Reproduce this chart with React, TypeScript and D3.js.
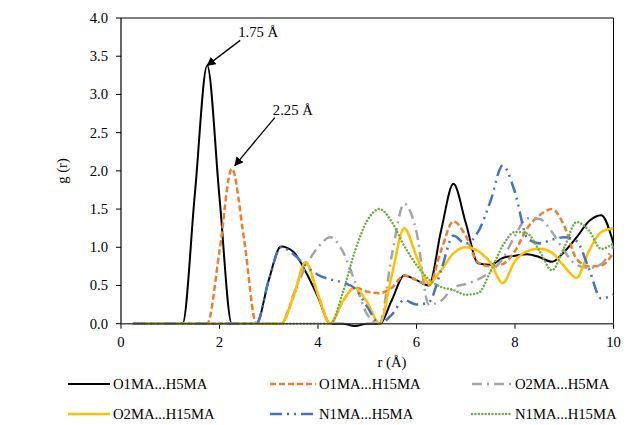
import React from "react";
import * as d3 from "d3";

// r (Å) sample points
const R = [0.25, 0.5, 0.75, 1.0, 1.25, 1.5, 1.75, 2.0, 2.25, 2.5, 2.75, 3.0, 3.25, 3.5, 3.75, 4.0, 4.25, 4.5, 4.75, 5.0,
  5.25, 5.5, 5.75, 6.0, 6.25, 6.5, 6.75, 7.0, 7.25, 7.5, 7.75, 8.0, 8.25, 8.5, 8.75, 9.0, 9.25, 9.5, 9.75, 10.0];

const O1MA_H5MA = [0, 0, 0, 0, 0, 1.7, 3.38, 1.65, 0, 0, 0, 0.57, 1.01, 0.94, 0.68, 0.35, 0, 0, -0.03, 0,
  0, 0.31, 0.63, 0.57, 0.5, 1.22, 1.83, 1.32, 0.79, 0.77, 0.86, 0.89, 0.91, 0.87, 0.81, 0.94, 1.13, 1.34, 1.42, 1.05];
const O1MA_H15MA = [0, 0, 0, 0, 0, 0, 0, 0.95, 2.03, 1.1, 0, 0, 0, 0.35, 0.8, 0.38, 0, 0.29, 0.47, 0.42,
  0.4, 0.47, 0.63, 0.57, 0.5, 0.96, 1.34, 1.15, 0.8, 0.75, 0.78, 0.95, 1.25, 1.42, 1.5, 1.28, 0.85, 0.75, 0.76, 0.93];
const O2MA_H5MA = [0, 0, 0, 0, 0, 0, 0, 0, 0, 0, 0, 0, 0, 0.38, 0.75, 1.0, 1.13, 0.95, 0.55, 0.12,
  0, 0.9, 1.57, 1.2, 0.25, 0.3, 0.47, 0.52, 0.58, 0.68, 0.85, 1.15, 1.38, 1.37, 1.2, 0.95, 0.77, 0.73, 0.78, 1.02];
const O2MA_H15MA = [0, 0, 0, 0, 0, 0, 0, 0, 0, 0, 0, 0, 0, 0.35, 0.8, 0.38, 0, 0.29, 0.47, 0.28,
  0, 0.64, 1.25, 0.88, 0.53, 0.7, 0.92, 1.0, 0.95, 0.8, 0.53, 0.82, 0.95, 0.98, 0.93, 0.75, 0.6, 0.95, 1.2, 1.25];
const N1MA_H5MA = [0, 0, 0, 0, 0, 0, 0, 0, 0, 0, 0, 0.57, 1.0, 0.91, 0.76, 0.64, 0.58, 0.54, 0.46, 0.22,
  0, 0.12, 0.31, 0.25, 0.28, 0.7, 1.15, 1.05, 1.2, 1.6, 2.07, 1.72, 1.12, 1.05, 1.1, 1.13, 1.08, 0.72, 0.33, 0.38];
const N1MA_H15MA = [0, 0, 0, 0, 0, 0, 0, 0, 0, 0, 0, 0, 0, 0, 0, 0, 0, 0.4, 0.95, 1.35,
  1.5, 1.33, 1.02, 0.77, 0.58, 0.48, 0.44, 0.38, 0.4, 0.68, 1.02, 1.2, 1.18, 0.95, 0.7, 1.0, 1.33, 1.22, 0.98, 1.05];

const SERIES_NAMES = ["O1MA...H5MA", "O1MA...H15MA", "O2MA...H5MA", "O2MA...H15MA", "N1MA...H5MA", "N1MA...H15MA"];
const SERIES_VALUES = [O1MA_H5MA, O1MA_H15MA, O2MA_H5MA, O2MA_H15MA, N1MA_H5MA, N1MA_H15MA];

const Y_TICKS = [0, 0.5, 1.0, 1.5, 2.0, 2.5, 3.0, 3.5, 4.0];
const X_TICKS = [0, 2, 4, 6, 8, 10];

const PEAK_R = [1.75, 2.25];
const PEAK_G = [3.38, 2.03];
const PEAK_LABELS = ["1.75 Å", "2.25 Å"];

// styles
const COLORS = ["#000000", "#ED7D31", "#A5A5A5", "#FFC000", "#4472C4", "#70AD47"];
const DASHES = ["none", "6,3", "10,5,2,5", "none", "12,5,2,5,2,5", "0.01,3.4"];
const WIDTHS = [2, 2.5, 2.5, 2.5, 2.5, 2.5];
const CAPS = ["butt", "butt", "butt", "butt", "butt", "round"];

const FONT = "'Liberation Serif', 'Times New Roman', serif";

export default function App() {
  const W = 633, H = 425;
  const x = d3.scaleLinear().domain([0, 10]).range([121, 613.5]);
  const y = d3.scaleLinear().domain([0, 4]).range([323.7, 18]);

  const line = d3
    .line<number>()
    .x((_, i) => x(R[i]))
    .y((d) => y(d))
    .curve(d3.curveMonotoneX);

  const legendCols = [68, 270, 472];
  const legendRows = [384, 414];
  const sampleLen = [42, 46, 40];

  const arrowStart = [
    [33, -25],
    [40, -48],
  ];
  const tipOff = [
    [0, 0],
    [3, -3],
  ];

  return (
    <svg
      width={W}
      height={H}
      style={{ position: "absolute", left: 0, top: 0, background: "#fff" }}
      fontFamily={FONT}
    >
      <defs>
        <marker id="ah" viewBox="0 0 10 10" refX="9" refY="5" markerWidth="9" markerHeight="9" orient="auto" markerUnits="userSpaceOnUse">
          <path d="M0,0 L10,5 L0,10 z" fill="#000" />
        </marker>
        <clipPath id="plotclip">
          <rect x={x(0)} y={0} width={x(10) - x(0)} height={y(0) + 10} />
        </clipPath>
      </defs>
      <rect x={0} y={0} width={W} height={H} fill="#fff" />

      {/* plot border (top/right) */}
      <line x1={x(0)} x2={x(10)} y1={y(4)} y2={y(4)} stroke="#000" strokeWidth={1} />
      <line x1={x(10)} x2={x(10)} y1={y(4)} y2={y(0)} stroke="#000" strokeWidth={1} />

      {/* y axis */}
      <line x1={x(0)} x2={x(0)} y1={y(4)} y2={y(0) + 0.5} stroke="#000" strokeWidth={1.2} />
      {Y_TICKS.map((t) => (
        <g key={"y" + t}>
          <line x1={x(0) - 5} x2={x(0)} y1={y(t)} y2={y(t)} stroke="#000" strokeWidth={1} />
          <text x={108} y={y(t)} textAnchor="end" dominantBaseline="central" fontSize={14.7} fill="#000">
            {t.toFixed(1)}
          </text>
        </g>
      ))}

      {/* x ticks */}
      {X_TICKS.map((t) => (
        <g key={"x" + t}>
          <line x1={x(t)} x2={x(t)} y1={y(0)} y2={y(0) + 5} stroke="#000" strokeWidth={1} />
          <text x={x(t)} y={347} textAnchor="middle" fontSize={14.7} fill="#000">
            {t}
          </text>
        </g>
      ))}

      {/* series */}
      <g clipPath="url(#plotclip)">
        {SERIES_VALUES.map((vals, i) => (
          <path
            key={SERIES_NAMES[i]}
            d={line(vals) || ""}
            fill="none"
            stroke={COLORS[i]}
            strokeWidth={WIDTHS[i]}
            strokeDasharray={DASHES[i]}
            strokeLinecap={CAPS[i] as any}
            strokeLinejoin="round"
          />
        ))}
      </g>

      {/* x axis line */}
      <line x1={x(0)} x2={x(10)} y1={y(0)} y2={y(0)} stroke="#3a3a3a" strokeWidth={1.6} opacity={0.9} />

      {/* annotations */}
      {PEAK_R.map((r, i) => {
        const tx = x(r) + tipOff[i][0];
        const ty = y(PEAK_G[i]) + tipOff[i][1];
        const sx = tx + arrowStart[i][0];
        const sy = ty + arrowStart[i][1];
        return (
          <g key={"pk" + i}>
            <line x1={sx} y1={sy} x2={tx} y2={ty} stroke="#000" strokeWidth={1.3} markerEnd="url(#ah)" />
            <text x={sx - 2} y={sy - 3} fontSize={14.7} fill="#000">
              {PEAK_LABELS[i]}
            </text>
          </g>
        );
      })}

      {/* axis titles */}
      <text x={392} y={367} textAnchor="middle" fontSize={14.7} fill="#000">
        r (Å)
      </text>
      <text
        transform={`translate(67,171) rotate(-90)`}
        textAnchor="middle"
        fontSize={14.7}
        fill="#000"
      >
        g (r)
      </text>

      {/* legend */}
      {SERIES_NAMES.map((name, i) => {
        const col = i % 3;
        const row = Math.floor(i / 3);
        const lx = legendCols[col];
        const ly = legendRows[row];
        return (
          <g key={"lg" + i}>
            <line
              x1={lx}
              x2={lx + sampleLen[col]}
              y1={ly}
              y2={ly}
              stroke={COLORS[i]}
              strokeWidth={WIDTHS[i]}
              strokeDasharray={DASHES[i]}
              strokeLinecap={CAPS[i] as any}
            />
            <text x={lx + sampleLen[col] + 3} y={ly} dominantBaseline="central" fontSize={14.7} fill="#000">
              {name}
            </text>
          </g>
        );
      })}
    </svg>
  );
}
